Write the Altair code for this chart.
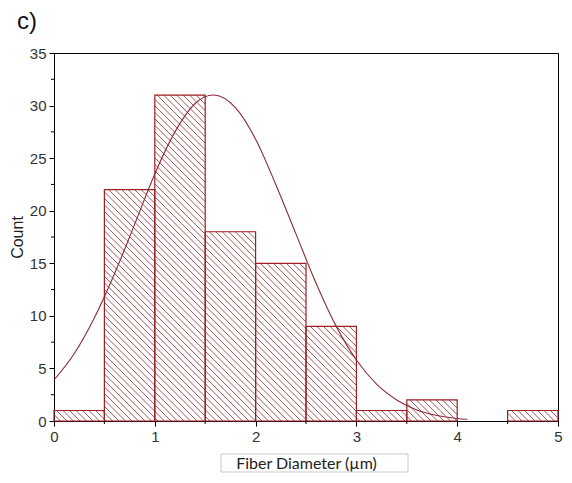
import altair as alt
import numpy as np
import pandas as pd

# Histogram data
bin_start = [0.0, 0.5, 1.0, 1.5, 2.0, 2.5, 3.0, 3.5, 4.0, 4.5]
bin_end = [0.5, 1.0, 1.5, 2.0, 2.5, 3.0, 3.5, 4.0, 4.5, 5.0]
counts = [1, 22, 31, 18, 15, 9, 1, 2, 0, 1]

# Fitted curve values
curve_x = [0.0, 0.2, 0.4, 0.6, 0.8, 1.0, 1.2, 1.4, 1.58, 1.8, 2.0, 2.2, 2.4,
           2.6, 2.8, 3.0, 3.2, 3.4, 3.6, 3.8, 4.0, 4.1]
curve_y = [3.9, 6.4, 9.8, 14.0, 18.7, 23.5, 27.5, 30.2, 31.0, 29.8, 26.8, 22.5,
           17.8, 13.1, 9.0, 5.8, 3.5, 2.0, 1.05, 0.52, 0.24, 0.16]

x_ticks = [0, 1, 2, 3, 4, 5]
y_ticks = [0, 5, 10, 15, 20, 25, 30, 35]

W, H = 504, 368
XMAX, YMAX = 5, 35
BAR_C = "#9e1f24"
HATCH_C = "#a8585c"
CURVE_C = "#8c2a3a"

bars = pd.DataFrame({"x0": bin_start, "x1": bin_end, "c": counts})
bars = bars[bars["c"] > 0]

# hatch geometry derived from bars (45 deg in pixel space)
sx, sy = W / XMAX, H / YMAX
spacing = 6.5
segs = []
for x0, x1, c in zip(bars["x0"], bars["x1"], bars["c"]):
    u0, u1, v1 = x0 * sx, x1 * sx, c * sy
    k0 = int(np.floor(u0 / spacing))
    k1 = int(np.ceil((u1 + v1) / spacing))
    for k in range(k0, k1 + 1):
        cc = k * spacing
        ua = max(u0, cc - v1)
        ub = min(u1, cc)
        if ub - ua > 0.5:
            segs.append({"hx": ua / sx, "hy": (cc - ua) / sy,
                         "hx2": ub / sx, "hy2": (cc - ub) / sy})
hatch = pd.DataFrame(segs)

curve = pd.DataFrame({"x": curve_x, "y": curve_y})

xscale = alt.Scale(domain=[0, XMAX], nice=False, zero=False)
yscale = alt.Scale(domain=[0, YMAX], nice=False)

FONT = "Liberation Sans"

x_axis = alt.Axis(values=x_ticks, title="Fiber Diameter (µm)", grid=False,
                  domainColor="black", tickColor="black", tickSize=5,
                  labelFont=FONT, labelFontSize=15, labelColor="#333333",
                  labelPadding=3, labelFlush=False, titleFont="Lato", titleFontSize=16,
                  titleFontWeight="normal", titleColor="#222222",
                  titleY=42, titleBaseline="middle", format="d")
y_axis = alt.Axis(values=y_ticks, title="Count", grid=False,
                  domainColor="black", tickColor="black", tickSize=5,
                  labelFont=FONT, labelFontSize=15, labelColor="#333333",
                  labelPadding=3, labelFlush=False, titleFont=FONT, titleFontSize=16,
                  titleFontWeight="normal", titleColor="#222222",
                  titleX=-37, titleBaseline="middle", format="d")

hatch_layer = alt.Chart(hatch).mark_rule(color=HATCH_C, strokeWidth=1).encode(
    x=alt.X("hx:Q", scale=xscale, axis=x_axis),
    y=alt.Y("hy:Q", scale=yscale, axis=y_axis),
    x2="hx2:Q", y2="hy2:Q")

bar_layer = alt.Chart(bars).mark_rect(fill=None, stroke=BAR_C, strokeWidth=1.2).encode(
    x=alt.X("x0:Q", scale=xscale), x2="x1:Q",
    y=alt.Y("c:Q", scale=yscale), y2=alt.datum(0))

curve_layer = alt.Chart(curve).mark_line(color=CURVE_C, strokeWidth=1.1,
                                          interpolate="monotone").encode(
    x=alt.X("x:Q", scale=xscale), y=alt.Y("y:Q", scale=yscale))

# minor ticks
minor_x = pd.DataFrame({"m": [0.5, 1.5, 2.5, 3.5, 4.5]})
minor_y = pd.DataFrame({"m": [2.5, 7.5, 12.5, 17.5, 22.5, 27.5, 32.5]})
mx_layer = alt.Chart(minor_x).mark_rule(color="black", strokeWidth=1).encode(
    x=alt.X("m:Q", scale=xscale), y=alt.value(H), y2=alt.value(H + 3))
my_layer = alt.Chart(minor_y).mark_rule(color="black", strokeWidth=1).encode(
    y=alt.Y("m:Q", scale=yscale), x=alt.value(0), x2=alt.value(-3))

# box around the x axis title
box = alt.Chart(pd.DataFrame({"a": [0]})).mark_rect(
    fill=None, stroke="#c8c8c8", strokeWidth=1).encode(
    x=alt.value(167), x2=alt.value(354), y=alt.value(H + 33), y2=alt.value(H + 51))

label = alt.Chart(pd.DataFrame({"t": ["c)"]})).mark_text(
    font=FONT, fontSize=24, align="left", baseline="alphabetic", color="#111111").encode(
    text="t:N", x=alt.value(-37), y=alt.value(-24))

chart = alt.layer(hatch_layer, bar_layer, curve_layer, mx_layer, my_layer, box, label).properties(
    width=W, height=H,
    autosize=alt.AutoSizeParams(type="none"),
    padding={"left": 46, "top": 45, "right": 5, "bottom": 52},
).configure_view(stroke="black", strokeWidth=1)

chart.save("out.html", embed_options={"renderer": "svg", "actions": False})
